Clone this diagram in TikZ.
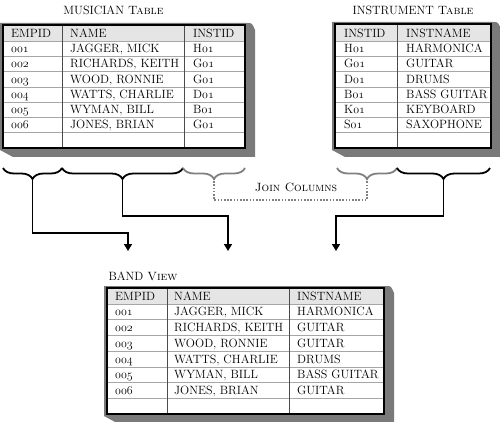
\documentclass[tikz,border=0pt]{standalone}
\usepackage{fontspec}
\usetikzlibrary{decorations.pathreplacing,arrows.meta}
\newcommand{\osn}[1]{{\usefont{OML}{cmm}{m}{it}#1}}
\newcommand{\drawplate}[4]{\fill[plate] (#1-3,#2-2) -- (#3+2,#2-2) .. controls (#3+7,#2-2) .. (#3+10,#2+5) -- (#3+10,#4+9) -- (#1+10,#4+9) -- (#1-3,#4+2) -- cycle;}
\tikzset{
  cell/.style={anchor=base west, inner sep=0pt, font={\fontsize{12}{14}\selectfont}},
  ttl/.style={anchor=base, inner sep=0pt, font={\fontsize{12}{14}\selectfont}},
  plate/.style={fill=black!52},
  hdr/.style={fill=black!10},
  rowline/.style={draw=black!35, line width=0.6pt},
  colline/.style={draw=black!70, line width=0.8pt},
  frame/.style={draw=black, line width=1.3pt},
  conn/.style={line width=1.6pt, -{Triangle[width=8pt,length=7pt]}},
  brc/.style={decorate, decoration={brace, amplitude=11pt, mirror}, line width=1.8pt},
  joinline/.style={draw=black!50, line width=1.6pt, dash pattern=on 1.6pt off 1.6pt},
}
\begin{document}
\begin{tikzpicture}[x=1pt,y=-1pt]
\useasboundingbox (0,0) rectangle (500,422);
% ---------- MUSICIAN table ----------
\node[ttl] (mtitle) at (113.5,15) {MUSICIAN \textsc{Table}};
\drawplate{3}{25}{245}{148}
\fill[white] (3,25) rectangle (245,148);
\fill[hdr] (3,25) rectangle (245,41);
\foreach \k in {0,...,6} \draw[rowline] (3,{41+15.3*\k}) -- (245,{41+15.3*\k});
\draw[colline] (62,25) -- (62,148);
\draw[colline] (184,25) -- (184,148);
\draw[frame] (3,25) rectangle (245,148);
\node[cell] (mh1) at (11,37.5) {EMPID};
\node[cell] (mh2) at (70,37.5) {NAME};
\node[cell] (mh3) at (193,37.5) {INSTID};
\foreach \e/\n/\c [count=\k] in {001/{JAGGER, MICK}/H, 002/{RICHARDS, KEITH}/G, 003/{WOOD, RONNIE}/G, 004/{WATTS, CHARLIE}/D, 005/{WYMAN, BILL}/B, 006/{JONES, BRIAN}/G}{
  \pgfmathsetmacro\yy{41+15.3*\k-3.8}
  \node[cell] (me\k) at (11,\yy) {\osn{\e}};
  \node[cell] (mn\k) at (70,\yy) {\n};
  \node[cell] (mi\k) at (193,\yy) {\c\osn{01}};
}
% ---------- INSTRUMENT table ----------
\node[ttl] (ititle) at (413,15) {INSTRUMENT \textsc{Table}};
\drawplate{335}{24}{491}{148}
\fill[white] (335,24) rectangle (491,148);
\fill[hdr] (335,24) rectangle (491,41);
\foreach \k in {0,...,6} \draw[rowline] (335,{41+15.3*\k}) -- (491,{41+15.3*\k});
\draw[colline] (397,24) -- (397,148);
\draw[frame] (335,24) rectangle (491,148);
\node[cell] (ih1) at (344,37.5) {INSTID};
\node[cell] (ih2) at (406,37.5) {INSTNAME};
\foreach \c/\n [count=\k] in {H/HARMONICA, G/GUITAR, D/DRUMS, B/{BASS GUITAR}, K/KEYBOARD, S/SAXOPHONE}{
  \pgfmathsetmacro\yy{41+15.3*\k-3.8}
  \node[cell] (ii\k) at (344,\yy) {\c\osn{01}};
  \node[cell] (in\k) at (406,\yy) {\n};
}
% ---------- BAND view ----------
\node[ttl] (btitle) at (143,280) {BAND \textsc{View}};
\drawplate{107}{288}{384}{414}
\fill[white] (107,288) rectangle (384,414);
\fill[hdr] (107,288) rectangle (384,304);
\foreach \k in {0,...,6} \draw[rowline] (107,{304+15.71*\k}) -- (384,{304+15.71*\k});
\draw[colline] (167,288) -- (167,414);
\draw[colline] (289,288) -- (289,414);
\draw[frame] (107,288) rectangle (384,414);
\node[cell] (bh1) at (115,300.5) {EMPID};
\node[cell] (bh2) at (174,300.5) {NAME};
\node[cell] (bh3) at (297,300.5) {INSTNAME};
\foreach \e/\n/\c [count=\k] in {001/{JAGGER, MICK}/HARMONICA, 002/{RICHARDS, KEITH}/GUITAR, 003/{WOOD, RONNIE}/GUITAR, 004/{WATTS, CHARLIE}/DRUMS, 005/{WYMAN, BILL}/{BASS GUITAR}, 006/{JONES, BRIAN}/GUITAR}{
  \pgfmathsetmacro\yy{304+15.71*\k-3.8}
  \node[cell] (be\k) at (115,\yy) {\osn{\e}};
  \node[cell] (bn\k) at (174,\yy) {\n};
  \node[cell] (bi\k) at (297,\yy) {\c};
}
% ---------- braces ----------
\draw[brc] (3,168) -- (62,168);
\draw[brc] (62,168) -- (183,168);
\draw[brc, black!50] (183,168) -- (245,168);
\draw[brc, black!50] (337,168) -- (397,168);
\draw[brc] (397,168) -- (490,168);
\coordinate (t1) at (32.5,178);
\coordinate (t2) at (122.5,178);
\coordinate (t3) at (214,178);
\coordinate (t4) at (367,178);
\coordinate (t5) at (443.5,178);
\coordinate (a1) at (128,251);
\coordinate (a2) at (228,251);
\coordinate (a3) at (336,251);
% ---------- connectors ----------
\draw[conn] (t1) -- ++(0,55) -| (a1);
\draw[conn] (t2) -- ++(0,38) -| (a2);
\draw[conn] (t5) -- ++(0,38) -| (a3);
\draw[joinline] (t3) -- ++(0,22) -| (t4);
\node[font={\fontsize{12}{14}\selectfont}, inner sep=1pt] (jc) at (296,187) {\textsc{Join Columns}};
\end{tikzpicture}
\end{document}
